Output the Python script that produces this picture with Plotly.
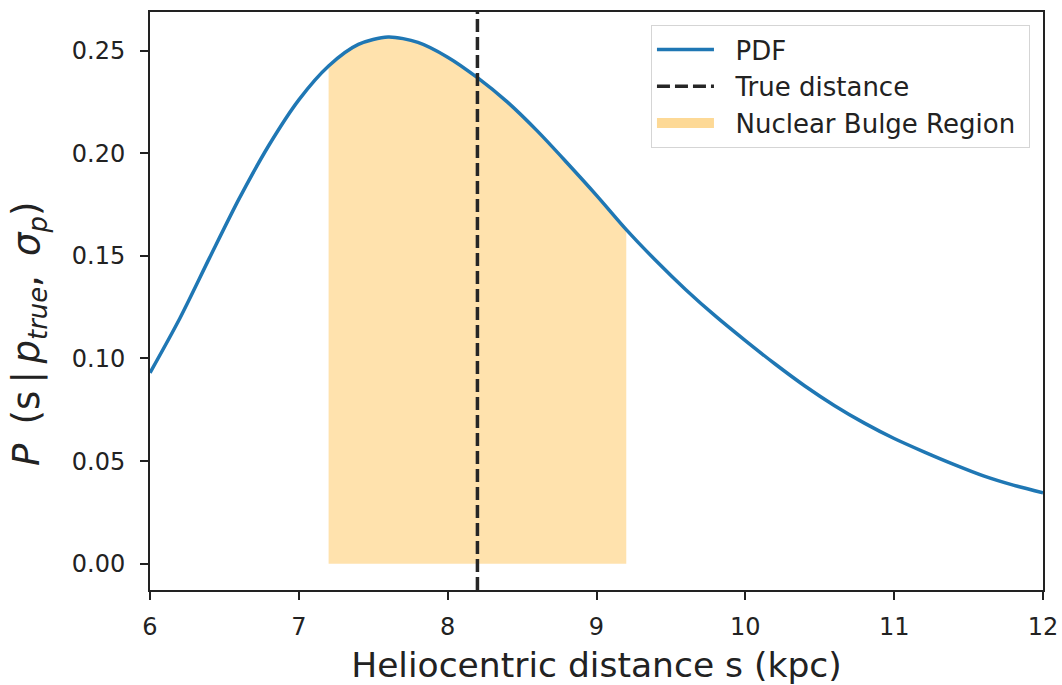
import plotly.graph_objects as go

# Heliocentric distance grid (kpc) and PDF values
distance_kpc = [6.0, 6.2, 6.4, 6.6, 6.8, 7.0, 7.2, 7.4, 7.6, 7.8, 8.0, 8.2, 8.4, 8.6, 8.8,
                9.0, 9.2, 9.4, 9.6, 9.8, 10.0, 10.2, 10.4, 10.6, 10.8, 11.0, 11.2, 11.4,
                11.6, 11.8, 12.0]
pdf_values = [0.093, 0.1195, 0.149, 0.178, 0.204, 0.226, 0.2425, 0.253, 0.2566, 0.254, 0.2468,
              0.2368, 0.225, 0.211, 0.1955, 0.1795, 0.1628, 0.1476, 0.1335, 0.1206, 0.1087,
              0.0973, 0.0866, 0.077, 0.0685, 0.061, 0.0545, 0.0484, 0.0428, 0.0383, 0.0346]

true_distance = 8.2
bulge_range = [7.2, 9.2]

x_range = [6, 12]
y_range = [-0.0128, 0.2688]
y_ticks = [0.00, 0.05, 0.10, 0.15, 0.20, 0.25]
y_tick_labels = ["0.00", "0.05", "0.10", "0.15", "0.20", "0.25"]
x_ticks = [6, 7, 8, 9, 10, 11, 12]

FONT = "DejaVu Sans"
NB = "\u00a0\u00a0"

bulge_x = [x for x in distance_kpc if bulge_range[0] <= x <= bulge_range[1]]
bulge_y = [y for x, y in zip(distance_kpc, pdf_values) if bulge_range[0] <= x <= bulge_range[1]]

fig = go.Figure()

fig.add_trace(go.Scatter(
    x=bulge_x, y=bulge_y, mode="lines", fill="tozeroy",
    fillcolor="rgba(255,165,0,0.32)", line=dict(width=0, shape="spline", smoothing=0.8),
    showlegend=False, hoverinfo="skip",
))
fig.add_trace(go.Scatter(
    x=distance_kpc, y=pdf_values, mode="lines",
    line=dict(color="#1f77b4", width=3.5, shape="spline", smoothing=0.8),
    name=NB + "PDF", legendrank=1,
))
fig.add_trace(go.Scatter(
    x=[true_distance, true_distance], y=y_range, mode="lines",
    line=dict(color="#262626", width=3.5, dash="13px,5px"),
    name=NB + "True distance", legendrank=2,
))
# legend entry for the shaded region (patch-like swatch)
fig.add_trace(go.Scatter(
    x=[None], y=[None], mode="lines",
    line=dict(color="rgba(253,217,150,1)", width=20),
    name=NB + "Nuclear Bulge Region\u00a0", legendrank=3,
))

axis_common = dict(
    showline=True, linecolor="#222", linewidth=1.9, mirror=True,
    ticks="outside", ticklen=8, tickwidth=1.9, tickcolor="#222",
    showgrid=False, zeroline=False, automargin=False,
    tickfont=dict(family=FONT, size=24, color="#222"),
)

fig.update_xaxes(
    range=x_range, tickvals=x_ticks, ticklabelstandoff=6, **axis_common,
    title=dict(text="Heliocentric distance s (kpc)", font=dict(family=FONT, size=34.5, color="#222"),
               standoff=13),
)
fig.update_yaxes(
    range=y_range, tickvals=y_ticks, ticktext=y_tick_labels, ticklabelstandoff=10, **axis_common,
)

# y-axis label placed as a rotated annotation (matches reference position)
fig.add_annotation(
    text="<i>P</i>\u2009 (s\u2009|\u2009<i>p</i><sub><i>true</i></sub>,\u2009 <i>σ</i><sub><i>p</i></sub>)",
    xref="paper", yref="paper", x=-0.1355, y=0.443, xanchor="center", yanchor="middle",
    textangle=-90, showarrow=False, font=dict(family=FONT, size=37, color="#222"),
)

fig.update_layout(
    width=1062, height=685,
    margin=dict(l=150, r=19, t=12, b=95),
    paper_bgcolor="white", plot_bgcolor="white",
    showlegend=True,
    legend=dict(
        x=0.9854, y=0.9775, xanchor="right", yanchor="top",
        bgcolor="rgba(255,255,255,0.8)", bordercolor="#d5d5d5", borderwidth=1,
        font=dict(family=FONT, size=26, color="#222"),
        itemwidth=57, tracegroupgap=0,
    ),
)

fig.write_html(
    "out.html",
    config={"displayModeBar": False},
    post_script="document.body.style.margin='0';document.body.style.overflow='hidden';",
)
